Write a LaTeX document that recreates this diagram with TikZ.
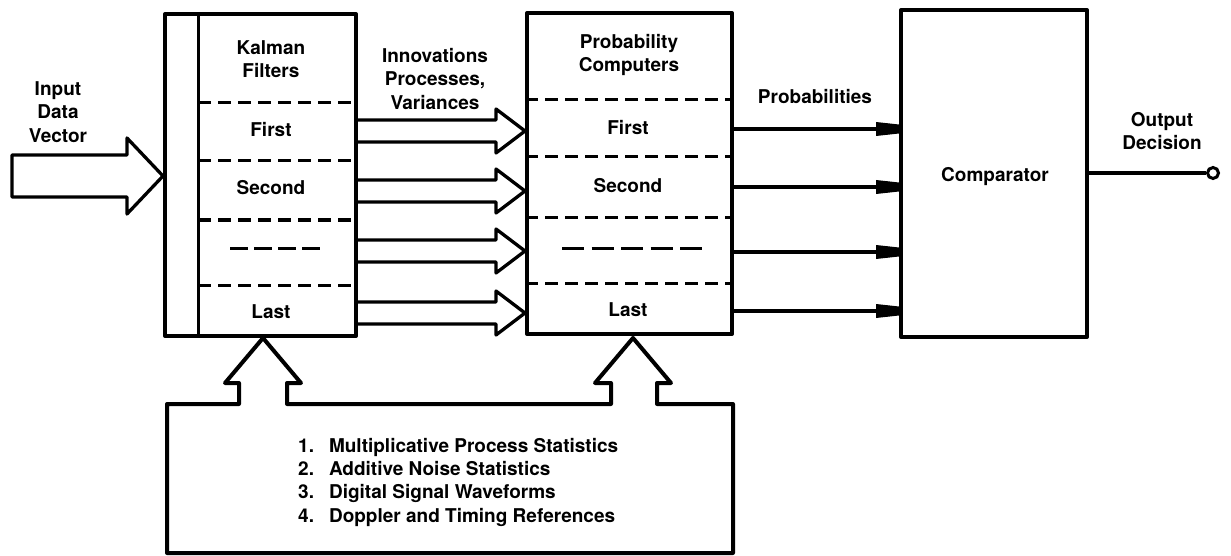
\documentclass[tikz,border=0pt]{standalone}
\usepackage{fontspec}
\setmainfont{TeX Gyre Heros}
\usetikzlibrary{arrows.meta,calc}
\tikzset{
  blk/.style={draw, line width=4pt, line join=round, inner sep=0pt},
  dsh/.style={line width=3pt, dash pattern=on 13pt off 7pt},
  gapdash/.style={line width=3pt, dash pattern=on 18pt off 6pt},
  hol/.style={line width=3.3pt, line join=round},
  pline/.style={line width=3.3pt},
  lbl/.style={font=\fontsize{19}{23.5}\selectfont\bfseries, align=center, inner sep=0pt},
  ptip/.pic={\fill[line join=round] (-23,-7) -- (0,-4.5) -- (0,4.5) -- (-23,7) -- cycle;}
}
\newcommand\hollowR[1]{%
  \draw[hol] (kf.east |- 0,#1-11) -- (496,#1-11) -- (496,#1-22) -- (pc.west |- 0,#1)
    -- (496,#1+22) -- (496,#1+11) -- (kf.east |- 0,#1+11);}
\begin{document}
\begin{tikzpicture}[x=1pt,y=-1pt]
\useasboundingbox (0,0) rectangle (1231,556);

% blocks
\node[blk, minimum width=191pt, minimum height=322pt] (kf) at (260.5,175) {};
\node[blk, minimum width=205pt, minimum height=321pt] (pc) at (629.5,173.5) {};
\node[blk, minimum width=186pt, minimum height=327pt] (cmp) at (994,173.5) {};

% Kalman filter internals
\draw[line width=3pt] (kf.north -| 198,0) -- (kf.south -| 198,0);
\foreach \yy in {103,161,220,285} \draw[dsh] (198,\yy) -- (kf.east |- 0,\yy);
\draw[gapdash] (230,248) -- (320,248);
\node[lbl] (kft) at (271,59) {Kalman\\Filters};
\node[lbl] (kf1) at (271,130) {First};
\node[lbl] (kf2) at (271,188) {Second};
\node[lbl] (kfl) at (271,312) {Last};

% Probability computer internals
\foreach \yy in {100,157,218,283} \draw[dsh] (pc.west |- 0,\yy) -- (pc.east |- 0,\yy);
\draw[line width=3pt, dash pattern=on 22pt off 7.5pt] (562,248) -- (702,248);
\node[lbl] (pct) at (629,55) {Probability\\Computers};
\node[lbl] (pc1) at (628,128) {First};
\node[lbl] (pc2) at (628,186) {Second};
\node[lbl] (pcl) at (628,310) {Last};

% comparator
\node[lbl] (cmpt) at (995,177) {Comparator};

% input arrow
\coordinate (inp) at (12,176);
\draw[hol] (inp) ++(0,-21) -- (127,155) -- (127,138) -- (kf.west |- 0,176)
  -- (127,214) -- (127,197) -- (12,197) -- cycle;
\node[lbl] (inpt) at (58,112) {Input\\Data\\Vector};

% hollow arrows Kalman -> probability computers
\hollowR{131}
\hollowR{191}
\hollowR{251}
\hollowR{313}
\node[lbl] (innt) at (435,79) {Innovations\\Processes,\\Variances};

% probabilities -> comparator
\foreach \yy in {129,187,252,311} {
  \draw[pline] (pc.east |- 0,\yy) -- (cmp.west |- 0,\yy);
  \path (cmp.west |- 0,\yy) pic {ptip};
}
\node[lbl] (probt) at (815,97) {Probabilities};

% output
\node[circle, draw, line width=3pt, minimum size=11pt, inner sep=0pt] (od) at (1213,173) {};
\draw[pline] (cmp.east |- 0,173) -- (od.west);
\node[lbl] (odt) at (1162,131) {Output\\Decision};

% bottom information box with two up arrows
\draw[blk] (167,553) -- (167,404) -- (239,404) -- (239,383) -- (225,383) -- (263,338)
  -- (301,383) -- (287,383) -- (287,404) -- (611,404) -- (611,383) -- (595,383)
  -- (633,338) -- (671,383) -- (657,383) -- (657,404) -- (733,404) -- (733,553) -- cycle;
\node[anchor=base west, inner sep=0pt, font=\fontsize{19}{23.4}\selectfont\bfseries] (lst) at (298,452)
  {\begin{tabular}[t]{@{}r@{\hspace{15pt}}l@{}}
   1. & Multiplicative Process Statistics\\
   2. & Additive Noise Statistics\\
   3. & Digital Signal Waveforms\\
   4. & Doppler and Timing References
   \end{tabular}};
\end{tikzpicture}
\end{document}
